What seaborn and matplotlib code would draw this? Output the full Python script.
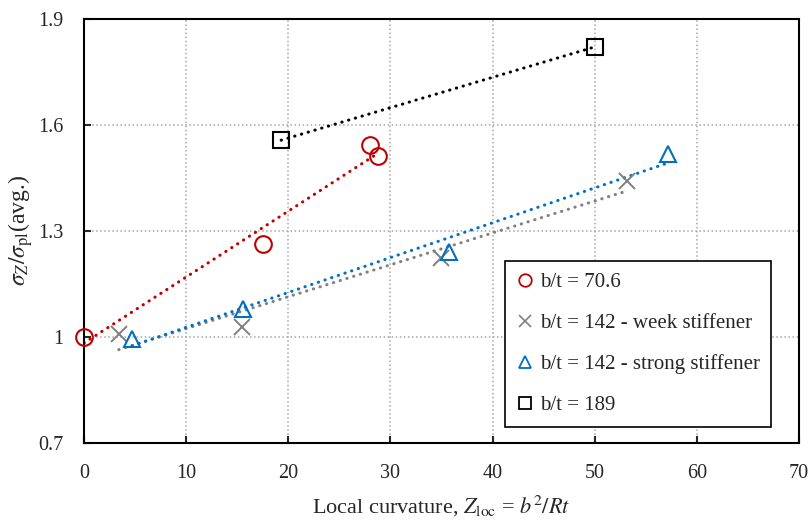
import numpy as np
import pandas as pd
import matplotlib
matplotlib.use('Agg')
import matplotlib.pyplot as plt
import seaborn as sns
from matplotlib.lines import Line2D

sns.set_style('white')
plt.rcParams['font.family'] = ['Liberation Serif', 'DejaVu Serif']
plt.rcParams['mathtext.fontset'] = 'stix'

# data
x_706 = [0.0, 17.5, 28.0, 28.8]
y_706 = [1.00, 1.263, 1.543, 1.512]

x_142w = [3.4, 15.5, 34.9, 53.2]
y_142w = [1.008, 1.027, 1.223, 1.441]

x_142s = [4.7, 15.6, 35.7, 57.2]
y_142s = [0.995, 1.078, 1.240, 1.518]

x_189 = [19.3, 50.0]
y_189 = [1.557, 1.821]

labels = ['b/t = 70.6', 'b/t = 142 - week stiffener',
          'b/t = 142 - strong stiffener', 'b/t = 189']
colors = ['#C00000', '#808080', '#0070C0', '#000000']
markers = ['o', 'x', '^', 's']

xticks = [0, 10, 20, 30, 40, 50, 60, 70]
yticks = [0.7, 1.0, 1.3, 1.6, 1.9]
ytick_labels = ['0.7', '1', '1.3', '1.6', '1.9']

series = [(x_706, y_706), (x_142w, y_142w), (x_142s, y_142s), (x_189, y_189)]

fig, ax = plt.subplots(figsize=(8.08, 5.21), dpi=100)
fig.subplots_adjust(left=0.104, right=0.989, top=0.9635, bottom=0.150)

for (xs, ys), c, m in zip(series, colors, markers):
    df = pd.DataFrame({'x': xs, 'y': ys})
    # linear trendline across the data range
    sns.regplot(data=df, x='x', y='y', scatter=False, ci=None, truncate=True,
                ax=ax, color=c,
                line_kws=dict(linestyle=(0, (0.1, 2.2)), linewidth=2.2,
                              dash_capstyle='round', zorder=2))
    if m == 'x':
        ax.plot(xs, ys, linestyle='none', marker=m, markersize=11,
                markeredgewidth=1.4, color=c, zorder=3, clip_on=False)
    else:
        ax.plot(xs, ys, linestyle='none', marker=m, markersize=12,
                markeredgewidth=1.5, markerfacecolor='none',
                markeredgecolor=c, zorder=3, clip_on=False)

ax.set_xlim(0, 70)
ax.set_ylim(0.7, 1.9)
ax.set_xticks(xticks)
ax.set_yticks(yticks)
ax.set_yticklabels(ytick_labels)
ax.tick_params(axis='both', direction='in', length=5, width=1.5,
               labelsize=14.5, pad=15, bottom=True, left=True,
               top=False, right=False)
ax.grid(True, linestyle=':', color='#A6A6A6', linewidth=1.1)
ax.set_axisbelow(True)
for sp in ax.spines.values():
    sp.set_color('black')
    sp.set_linewidth(1.5)

ax.set_xlabel(r'Local curvature, $Z_{\rm loc}$ = $b^2/Rt$', fontsize=16,
              labelpad=8)
ax.set_ylabel(r'$\sigma_Z/\sigma_{\rm pl}$(avg.)', fontsize=17, labelpad=2)

handles = []
for c, m, lab in zip(colors, markers, labels):
    if m == 'x':
        h = Line2D([], [], linestyle='none', marker=m, color=c,
                   markersize=9, markeredgewidth=1.2, label=lab)
    else:
        h = Line2D([], [], linestyle='none', marker=m, markerfacecolor='none',
                   markeredgecolor=c, markersize=9, markeredgewidth=1.3,
                   label=lab)
    handles.append(h)

leg = ax.legend(handles=handles, loc='lower right',
                bbox_to_anchor=(0.961, 0.038), fontsize=15, frameon=True,
                fancybox=False, framealpha=1, edgecolor='black',
                handlelength=0.8, handletextpad=0.3, labelspacing=1.02,
                borderpad=0.55, borderaxespad=0)
leg.get_frame().set_linewidth(1.2)

fig.savefig('out.png', dpi=100)
